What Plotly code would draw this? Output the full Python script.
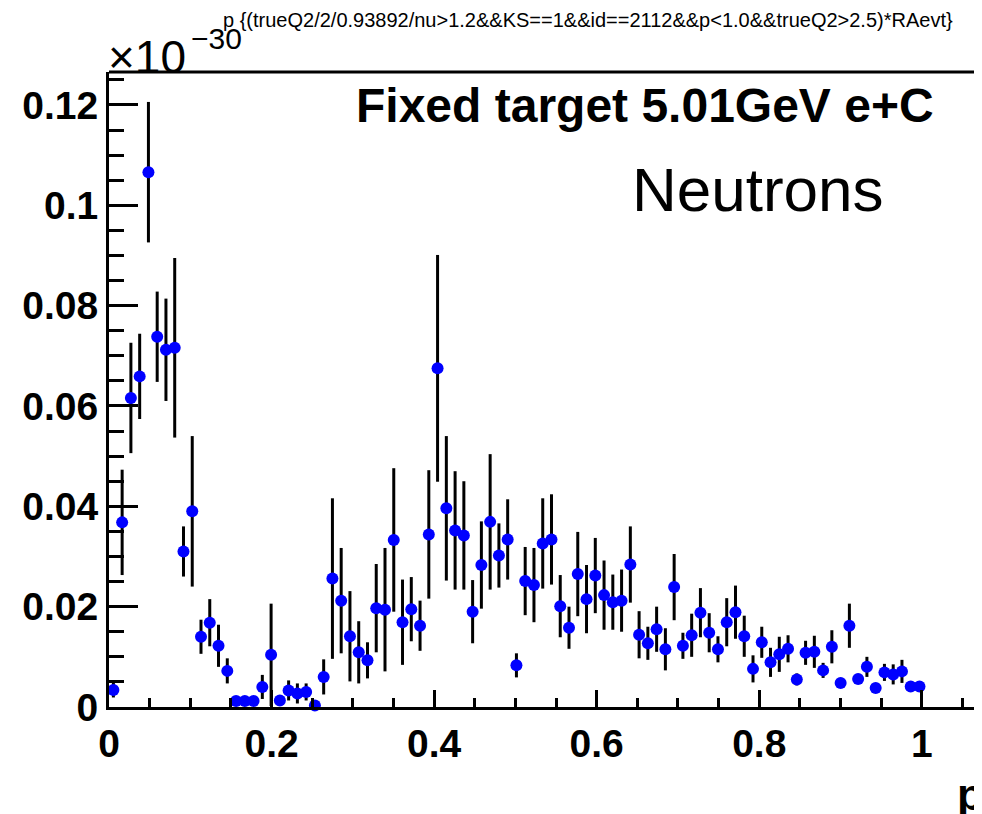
import numpy as np
import plotly.graph_objects as go

# ---- data (values in units of 1e-30) ----
bin_width = 0.01078
counts = [0.0034, 0.0368, 0.0616, 0.0659, 0.1066, 0.0738, 0.0712, 0.0716, 0.0310, 0.0390,
          0.0140, 0.0168, 0.0122, 0.0072, 0.0012, 0.0012, 0.0012, 0.0040, 0.0104, 0.0013,
          0.0033, 0.0027, 0.0030, 0.0003, 0.0060, 0.0256, 0.0212, 0.0141, 0.0109, 0.0093,
          0.0197, 0.0194, 0.0333, 0.0169, 0.0195, 0.0162, 0.0344, 0.0675, 0.0396, 0.0352,
          0.0342, 0.0190, 0.0283, 0.0369, 0.0302, 0.0334, 0.0083, 0.0251, 0.0243, 0.0326,
          0.0334, 0.0201, 0.0158, 0.0265, 0.0215, 0.0262, 0.0223, 0.0209, 0.0212, 0.0284,
          0.0144, 0.0127, 0.0155, 0.0115, 0.0239, 0.0122, 0.0143, 0.0188, 0.0148, 0.0115,
          0.0169, 0.0189, 0.0141, 0.0076, 0.0129, 0.0089, 0.0105, 0.0116, 0.0055, 0.0108,
          0.0110, 0.0073, 0.0120, 0.0048, 0.0162, 0.0056, 0.0080, 0.0038, 0.0069, 0.0065,
          0.0071, 0.0041, 0.0041]
errors = [0.0015, 0.0105, 0.0110, 0.0085, 0.0140, 0.0090, 0.0102, 0.0179, 0.0050, 0.0150,
          0.0034, 0.0047, 0.0042, 0.0025, 0.0005, 0.0005, 0.0006, 0.0024, 0.0102, 0.0008,
          0.0020, 0.0020, 0.0017, 0.0003, 0.0035, 0.0160, 0.0105, 0.0090, 0.0062, 0.0036,
          0.0088, 0.0123, 0.0143, 0.0085, 0.0064, 0.0050, 0.0128, 0.0226, 0.0144, 0.0118,
          0.0108, 0.0063, 0.0087, 0.0135, 0.0064, 0.0080, 0.0024, 0.0068, 0.0074, 0.0090,
          0.0090, 0.0062, 0.0042, 0.0084, 0.0068, 0.0075, 0.0069, 0.0055, 0.0062, 0.0076,
          0.0047, 0.0033, 0.0045, 0.0042, 0.0066, 0.0026, 0.0043, 0.0049, 0.0039, 0.0026,
          0.0048, 0.0053, 0.0041, 0.0027, 0.0031, 0.0029, 0.0035, 0.0027, 0.0012, 0.0024,
          0.0032, 0.0015, 0.0033, 0.0010, 0.0044, 0.0010, 0.0020, 0.0010, 0.0017, 0.0020,
          0.0023, 0.0010, 0.0010]
x_ticks = [0, 0.2, 0.4, 0.6, 0.8, 1.0]
x_tick_labels = ["0", "0.2", "0.4", "0.6", "0.8", "1"]
y_ticks = [0, 0.02, 0.04, 0.06, 0.08, 0.10, 0.12]
y_tick_labels = ["0", "0.02", "0.04", "0.06", "0.08", "0.1", "0.12"]

title_text = "p {(trueQ2/2/0.93892/nu>1.2&&KS==1&&id==2112&&p<1.0&&trueQ2>2.5)*RAevt}"

centers = (np.arange(len(counts)) + 0.5) * bin_width

# page has an 8px body margin: figure occupies page pixels 8..982 x 8..814
OFF = 8
W, H = 982 - OFF, 814 - OFF
L, R, T, B = 109 - OFF, 0, 72 - OFF, 106.5
x_max = (W - L - R) / 812.8
y_max = (H - B - T) / 5021.0

fig = go.Figure()
fig.add_trace(go.Scatter(
    x=centers, y=counts, mode="markers",
    marker=dict(symbol="circle", size=12, color="#0000ff", line=dict(width=0)),
    error_y=dict(type="data", array=errors, visible=True, color="black", thickness=3, width=0),
    cliponaxis=False, showlegend=False,
))

FAM = "Liberation Sans, Arial, sans-serif"
axis_font = dict(family=FAM, size=39, color="black", weight="bold")

fig.update_layout(
    width=W, height=H,
    margin=dict(l=L, r=R, t=T, b=B, pad=0),
    paper_bgcolor="white", plot_bgcolor="white",
    xaxis=dict(range=[0, x_max], showgrid=False, zeroline=False,
               showline=True, linecolor="black", linewidth=3,
               ticks="inside", ticklen=17, tickwidth=3, tickcolor="black",
               tickvals=x_ticks, ticktext=x_tick_labels, tickfont=axis_font,
               minor=dict(ticks="inside", ticklen=9, tickwidth=3, tickcolor="black", dtick=0.05, showgrid=False)),
    yaxis=dict(range=[0, y_max], showgrid=False, zeroline=False,
               showline=True, linecolor="black", linewidth=3,
               ticks="inside", ticklen=29, tickwidth=3, tickcolor="black",
               tickvals=y_ticks, ticktext=y_tick_labels, tickfont=axis_font,
               minor=dict(ticks="inside", ticklen=15, tickwidth=3, tickcolor="black", dtick=0.005, showgrid=False)),
)

# top frame line
fig.add_shape(type="line", xref="paper", yref="paper", x0=0, x1=1, y0=1, y1=1,
              line=dict(color="black", width=3))

def px_x(p):
    return (p - OFF - L) / (W - L - R)

def px_y(p):
    return (H - B - (p - OFF)) / (H - B - T)

fig.add_annotation(text=title_text, xref="paper", yref="paper", x=px_x(588), y=px_y(20),
                   xanchor="center", yanchor="middle", showarrow=False,
                   font=dict(family=FAM, size=20, color="black"))
fig.add_annotation(text="×10", xref="paper", yref="paper", x=px_x(106), y=px_y(57),
                   xanchor="left", yanchor="middle", showarrow=False,
                   font=dict(family=FAM, size=46, color="black"))
fig.add_annotation(text="−30", xref="paper", yref="paper", x=px_x(189), y=px_y(38),
                   xanchor="left", yanchor="middle", showarrow=False,
                   font=dict(family=FAM, size=30, color="black"))
fig.add_annotation(text="Fixed target 5.01GeV e+C", xref="paper", yref="paper", x=px_x(936), y=px_y(106),
                   xanchor="right", yanchor="middle", showarrow=False,
                   font=dict(family=FAM, size=48, color="black", weight="bold"))
fig.add_annotation(text="Neutrons", xref="paper", yref="paper", x=px_x(886), y=px_y(190),
                   xanchor="right", yanchor="middle", showarrow=False,
                   font=dict(family=FAM, size=62, color="black"))
fig.add_annotation(text="p", xref="paper", yref="paper", x=px_x(955), y=px_y(795),
                   xanchor="left", yanchor="middle", showarrow=False,
                   font=dict(family=FAM, size=44, color="black", weight="bold"))

fig.write_html("out.html")
